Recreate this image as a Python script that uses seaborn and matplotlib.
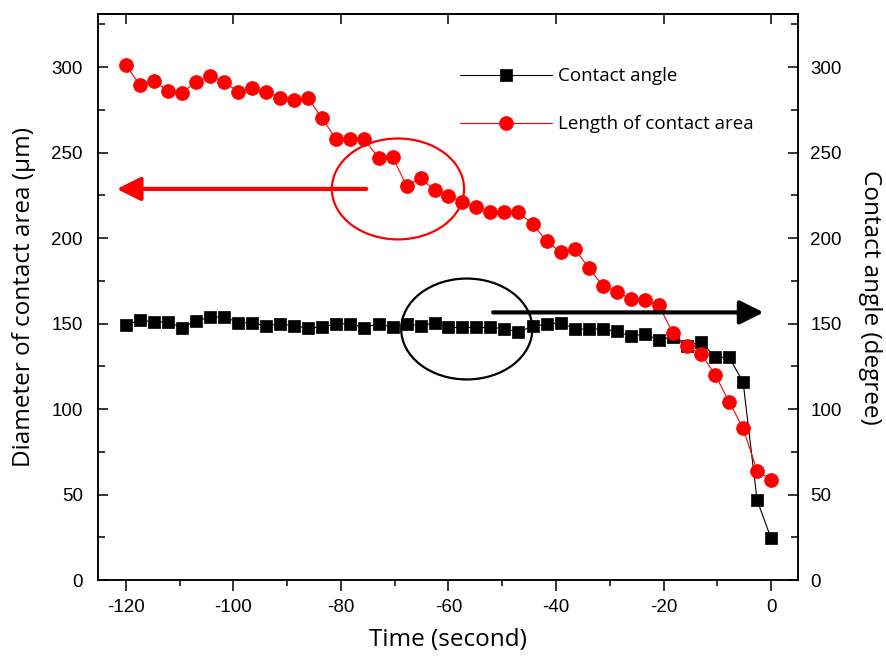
import matplotlib
matplotlib.use('Agg')
import matplotlib.pyplot as plt
from matplotlib.patches import Ellipse
from matplotlib.ticker import MultipleLocator
import seaborn as sns
import numpy as np

# time of each frame (s)
time_s = [-120, -117.4, -114.8, -112.2, -109.6, -107.0, -104.3, -101.7, -99.1, -96.5,
          -93.9, -91.3, -88.7, -86.1, -83.5, -80.9, -78.3, -75.7, -73.0, -70.4,
          -67.8, -65.2, -62.6, -60.0, -57.4, -54.8, -52.2, -49.6, -47.0, -44.3,
          -41.7, -39.1, -36.5, -33.9, -31.3, -28.7, -26.1, -23.5, -20.9, -18.3,
          -15.7, -13.0, -10.4, -7.8, -5.2, -2.6, 0]

# contact angle (degree), right axis
contact_angle = [149, 152, 151, 151, 147.5, 151.6, 153.6, 154, 150.5, 150.5,
                 148.5, 150, 148.5, 147.5, 148, 149.7, 150, 147.5, 150, 147.7,
                 150, 148.5, 150.5, 147.7, 147.7, 147.7, 147.7, 147, 145, 148.5,
                 149.5, 150.5, 146.8, 146.8, 146.8, 145.4, 142.5, 143.9, 140.4, 142.3,
                 136.8, 139.4, 130.2, 130.2, 115.8, 46.8, 24.4]

# diameter of contact area (um), left axis
contact_length = [301, 289.5, 292, 286, 285, 291, 295, 291, 285.6, 287.5,
                  285.6, 282, 281, 281.7, 270, 257.7, 257.7, 257.7, 247, 247.5,
                  230.4, 235, 228, 224.6, 220.8, 218, 215, 215.4, 215, 208,
                  198, 191.6, 193.4, 182.6, 172, 168.6, 164.3, 163.7, 160.8, 144.6,
                  136.8, 132.2, 120, 104.3, 88.7, 64, 58.5]

sns.set_theme(style='ticks')
plt.rcParams['axes.unicode_minus'] = False
plt.rcParams['font.family'] = ['Liberation Sans', 'DejaVu Sans']
plt.rcParams['text.color'] = 'black'
plt.rcParams['axes.labelcolor'] = 'black'

fig = plt.figure(figsize=(8.86, 6.58), dpi=100)
ax = fig.add_axes([0.1106, 0.1185, 0.79, 0.8602])
ax2 = ax.twinx()

sns.lineplot(x=time_s, y=contact_angle, ax=ax, color='black', linewidth=0.8,
             marker='s', markersize=8.5, markeredgecolor='black', markeredgewidth=0.5,
             label='Contact angle')
sns.lineplot(x=time_s, y=contact_length, ax=ax, color='red', linewidth=0.8,
             marker='o', markersize=10, markeredgecolor='red', markeredgewidth=0.5,
             label='Length of contact area')

ax.set_xlim(-125.2, 5)
ax.set_ylim(0, 331)
ax2.set_ylim(0, 331)

# annotations: ellipses and arrows
ax.add_patch(Ellipse((-69.4, 228.7), 24.6, 59, fill=False, edgecolor='red', lw=1.6))
ax.add_patch(Ellipse((-56.6, 146.8), 24.4, 59, fill=False, edgecolor='black', lw=1.6))
ax.annotate('', xy=(-121.7, 228.7), xytext=(-75.3, 228.7),
            arrowprops=dict(arrowstyle='-|>,head_length=1.2,head_width=0.6',
                            color='red', lw=3, shrinkA=0, shrinkB=0))
ax.annotate('', xy=(-1.4, 156.5), xytext=(-51.7, 156.5),
            arrowprops=dict(arrowstyle='-|>,head_length=1.2,head_width=0.6',
                            color='black', lw=3, shrinkA=0, shrinkB=0))

# ticks
ax.xaxis.set_major_locator(MultipleLocator(20))
ax.xaxis.set_minor_locator(MultipleLocator(10))
for a in (ax, ax2):
    a.yaxis.set_major_locator(MultipleLocator(50))
    a.yaxis.set_minor_locator(MultipleLocator(25))
    for s in a.spines.values():
        s.set_visible(True)
        s.set_linewidth(1.1)
        s.set_color('black')
ax.tick_params(axis='x', which='major', direction='out', length=8, width=1.1,
               labelsize=13.5, pad=6, colors='black')
ax.tick_params(axis='x', which='minor', direction='out', length=4, width=1.1, colors='black')
ax.tick_params(axis='y', which='major', direction='in', length=7, width=1.1,
               labelsize=13.5, pad=11, colors='black')
ax.tick_params(axis='y', which='minor', direction='in', length=5, width=1.1, colors='black')
ax2.tick_params(axis='y', which='major', direction='in', length=7, width=1.1,
                labelsize=13.5, pad=9, colors='black')
ax2.tick_params(axis='y', which='minor', direction='in', length=5, width=1.1, colors='black')

top = ax.secondary_xaxis('top')
top.xaxis.set_major_locator(MultipleLocator(20))
top.tick_params(axis='x', direction='in', length=7, width=1.1, labeltop=False, colors='black')
top.spines['top'].set_linewidth(1.1)

lab_font = ['Open Sans', 'DejaVu Sans']
ax.set_xlabel('Time (second)', fontsize=17.5, family=lab_font, labelpad=8, color='black')
ax.set_ylabel('Diameter of contact area (μm)', fontsize=17.5, family=lab_font,
              labelpad=11, color='black')
ax2.set_ylabel('Contact angle (degree)', fontsize=17.5, family=lab_font,
               rotation=270, labelpad=29, color='black')

leg = ax.legend(loc='upper left', bbox_to_anchor=(0.509, 0.912),
                bbox_transform=fig.transFigure, frameon=False,
                handlelength=4.9, handletextpad=0.3, labelspacing=1.6,
                borderpad=0, prop={'family': lab_font, 'size': 13.5})
for t in leg.get_texts():
    t.set_color('black')

fig.savefig('out.png', dpi=100)
